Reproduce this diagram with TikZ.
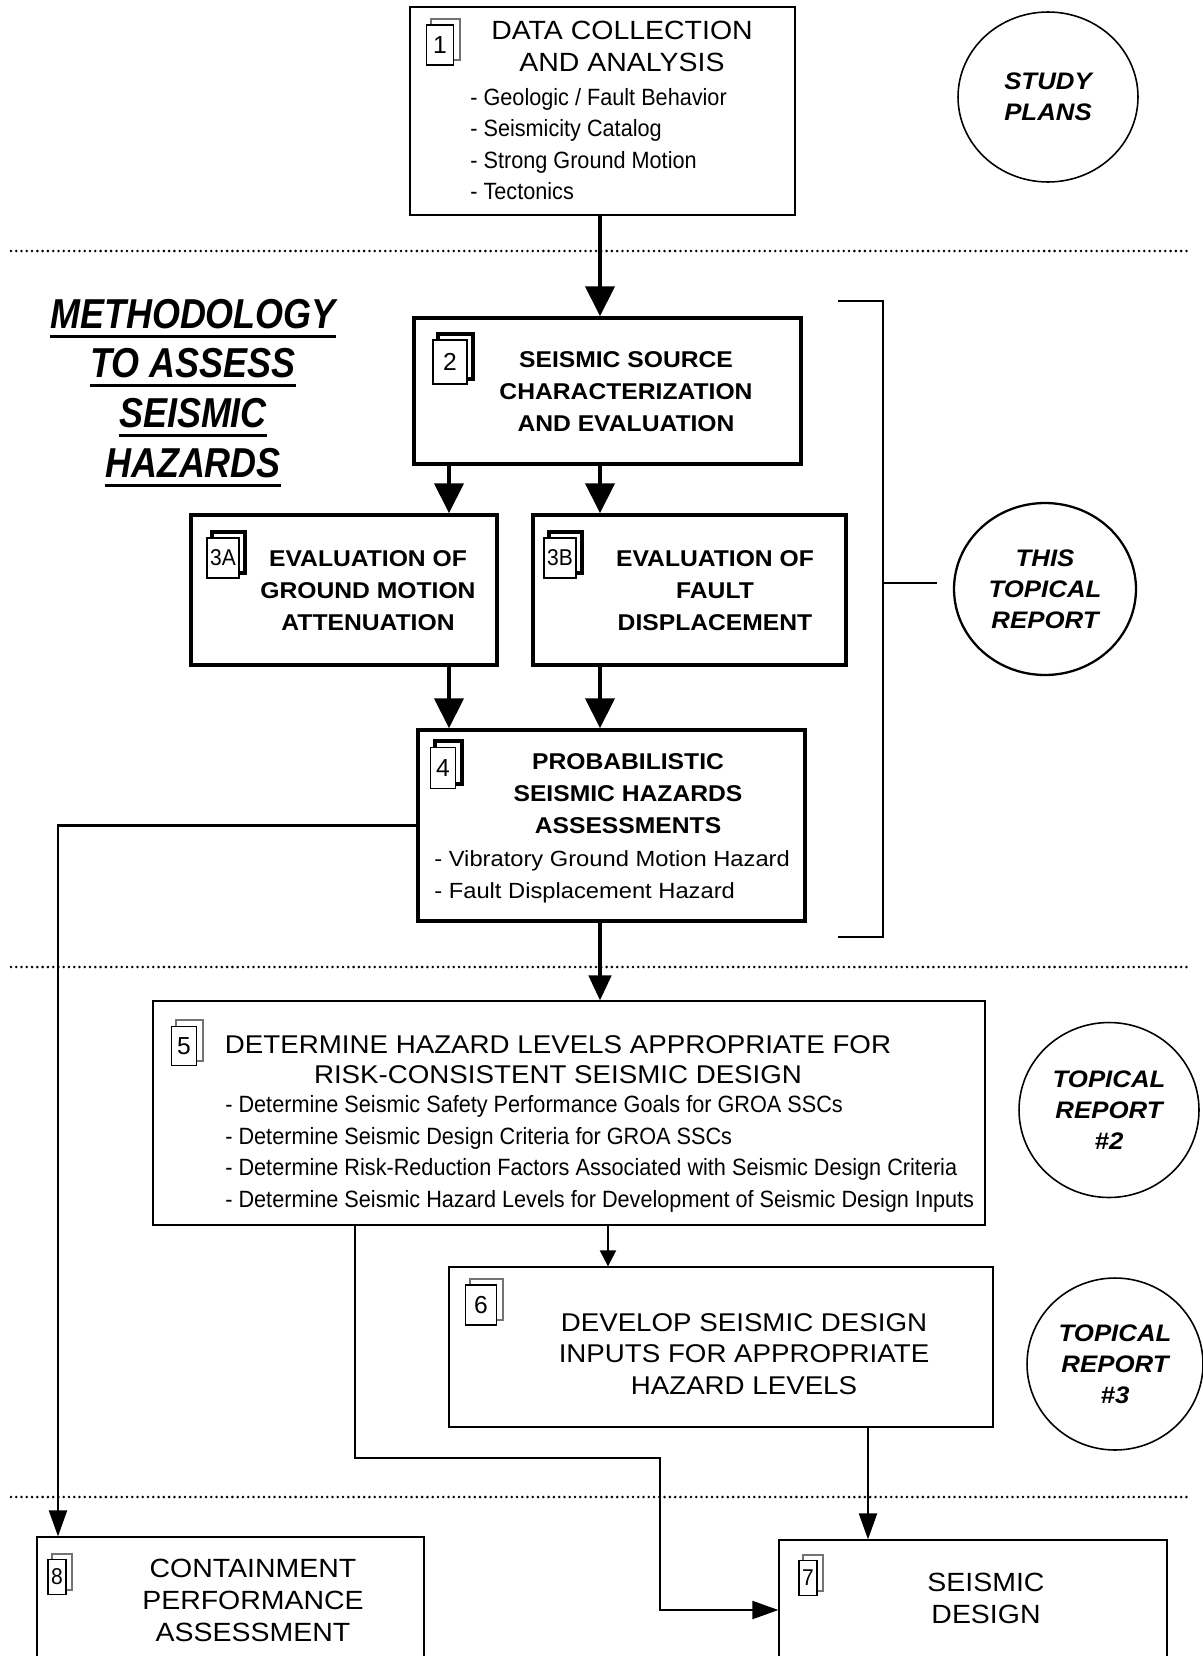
\documentclass[tikz,border=0pt]{standalone}
\usepackage{fontspec}
\setmainfont{Liberation Sans}
\newfontfamily\widesans[FakeStretch=1.08]{Liberation Sans}
\newfontfamily\narrowsans[FakeStretch=0.92]{Liberation Sans}
\newfontfamily\slimsans[FakeStretch=0.86]{Liberation Sans}
\usetikzlibrary{arrows.meta,fit,shapes.geometric}

\begin{document}
\begin{tikzpicture}[x=0.02cm, y=-0.02cm,
  thinbox/.style={draw, line width=0.7pt, inner sep=0pt},
  boldbox/.style={draw, line width=2pt, inner sep=0pt},
  numbox/.style={draw, fill=white, line width=0.9pt, inner sep=0pt, minimum width=0.6cm, minimum height=0.82cm, font=\fontsize{14}{14}\selectfont},
  iconback/.style={line width=1.2pt, black!55},
  boldback/.style={line width=2.2pt},
  plaintitle/.style={align=center, inner sep=0pt, font=\widesans\fontsize{15}{18.2}\selectfont},
  boldtitle/.style={align=center, inner sep=0pt, font=\widesans\bfseries\fontsize{13}{18.2}\selectfont},
  narrowlist/.style={align=left, inner sep=0pt, anchor=west, font=\narrowsans\fontsize{13.4}{17.9}\selectfont},
  plainlist/.style={align=left, inner sep=0pt, anchor=west, font=\widesans\fontsize{12.5}{18.2}\selectfont},
  oval/.style={ellipse, draw, line width=0.9pt, inner sep=0pt, align=center, font=\widesans\bfseries\itshape\fontsize{13.6}{17.7}\selectfont},
  headline/.style={inner sep=0pt, font=\slimsans\bfseries\itshape\fontsize{23.8}{28}\selectfont},
  dotline/.style={line width=1.6pt, dash pattern=on 0pt off 3pt, line cap=round},
  bigarrow/.style={line width=2.4pt, -{Triangle[length=0.6cm,width=0.58cm]}},
  thinarrow/.style={line width=1.2pt, -{Triangle[length=0.52cm,width=0.36cm]}},
  bracket/.style={line width=1.4pt}]
  \path[use as bounding box] (0,0) rectangle (1203,1656);
  \clip (0,0) rectangle (1203,1656);

  % section rules
  \draw[dotline] (11,251) -- (1188,251);
  \draw[dotline] (11,967) -- (1188,967);
  \draw[dotline] (11,1497) -- (1188,1497);

  % boxes
  \node[thinbox, line width=0.9pt, fit={(410,7) (795,215)}] (b1) {};
  \node[boldbox, fit={(414,318) (801,464)}] (b2) {};
  \node[boldbox, fit={(191,515) (497,665)}] (b3a) {};
  \node[boldbox, fit={(533,515) (846,665)}] (b3b) {};
  \node[boldbox, fit={(418,730) (805,921)}] (b4) {};
  \node[thinbox, fit={(153,1001) (985,1225)}] (b5) {};
  \node[thinbox, fit={(449,1267) (993,1427)}] (b6) {};
  \node[thinbox, fit={(779,1540) (1167,1680)}] (b7) {};
  \node[thinbox, fit={(37,1537) (424,1700)}] (b8) {};

  % page icons
  \node[numbox, minimum width=0.54cm, minimum height=0.8cm] (n1) at (440,45) {1};
  \draw[iconback] ([xshift=0.11cm]n1.north west) |- ([shift={(0.11cm,0.11cm)}]n1.north east) |- ([yshift=0.11cm]n1.south east);
  \node[numbox, minimum width=0.68cm, minimum height=0.88cm] (n2) at (450,362) {2};
  \draw[boldback] ([xshift=0.11cm]n2.north west) |- ([shift={(0.11cm,0.11cm)}]n2.north east) |- ([yshift=0.11cm]n2.south east);
  \node[numbox, minimum width=0.64cm, minimum height=0.8cm, font=\narrowsans\fontsize{13}{13}\selectfont] (n3a) at (223,558) {3A};
  \draw[boldback] ([xshift=0.11cm]n3a.north west) |- ([shift={(0.11cm,0.11cm)}]n3a.north east) |- ([yshift=0.11cm]n3a.south east);
  \node[numbox, minimum width=0.64cm, minimum height=0.8cm, font=\narrowsans\fontsize{13}{13}\selectfont] (n3b) at (560,558) {3B};
  \draw[boldback] ([xshift=0.11cm]n3b.north west) |- ([shift={(0.11cm,0.11cm)}]n3b.north east) |- ([yshift=0.11cm]n3b.south east);
  \node[numbox, minimum width=0.5cm, minimum height=0.82cm] (n4) at (443,768) {4};
  \draw[boldback] ([xshift=0.11cm]n4.north west) |- ([shift={(0.11cm,0.11cm)}]n4.north east) |- ([yshift=0.11cm]n4.south east);
  \node[numbox, minimum width=0.5cm, minimum height=0.78cm] (n5) at (184,1046) {5};
  \draw[iconback] ([xshift=0.11cm]n5.north west) |- ([shift={(0.11cm,0.11cm)}]n5.north east) |- ([yshift=0.11cm]n5.south east);
  \node[numbox, minimum width=0.62cm, minimum height=0.8cm] (n6) at (481,1305) {6};
  \draw[iconback] ([xshift=0.11cm]n6.north west) |- ([shift={(0.11cm,0.11cm)}]n6.north east) |- ([yshift=0.11cm]n6.south east);
  \node[numbox, minimum width=0.36cm, minimum height=0.7cm, font=\narrowsans\fontsize{13}{13}\selectfont] (n7) at (808,1578) {7};
  \draw[iconback] ([xshift=0.1cm]n7.north west) |- ([shift={(0.1cm,0.1cm)}]n7.north east) |- ([yshift=0.1cm]n7.south east);
  \node[numbox, minimum width=0.36cm, minimum height=0.7cm, font=\narrowsans\fontsize{13}{13}\selectfont] (n8) at (57,1577) {8};
  \draw[iconback] ([xshift=0.1cm]n8.north west) |- ([shift={(0.1cm,0.1cm)}]n8.north east) |- ([yshift=0.1cm]n8.south east);

  % box texts
  \node[plaintitle] (t1) at (622,46) {DATA COLLECTION\\AND ANALYSIS};
  \node[narrowlist] (l1) at (470,144) {- Geologic / Fault Behavior\\- Seismicity Catalog\\- Strong Ground Motion\\- Tectonics};
  \node[boldtitle] (t2) at (626,392) {SEISMIC SOURCE\\CHARACTERIZATION\\AND EVALUATION};
  \node[boldtitle] (t3a) at (368,591) {EVALUATION OF\\GROUND MOTION\\ATTENUATION};
  \node[boldtitle] (t3b) at (715,591) {EVALUATION OF\\FAULT\\DISPLACEMENT};
  \node[boldtitle] (t4) at (628,794) {PROBABILISTIC\\SEISMIC HAZARDS\\ASSESSMENTS};
  \node[plainlist] (l4) at (434,877) {- Vibratory Ground Motion Hazard\\- Fault Displacement Hazard};
  \node[plaintitle, font=\widesans\fontsize{14.6}{17.2}\selectfont] (t5) at (558,1060) {DETERMINE HAZARD LEVELS APPROPRIATE FOR\\RISK-CONSISTENT SEISMIC DESIGN};
  \node[narrowlist] (l5) at (225,1154) {- Determine Seismic Safety Performance Goals for GROA SSCs\\- Determine Seismic Design Criteria for GROA SSCs\\- Determine Risk-Reduction Factors Associated with Seismic Design Criteria\\- Determine Seismic Hazard Levels for Development of Seismic Design Inputs};
  \node[plaintitle, font=\widesans\fontsize{14.6}{17.9}\selectfont] (t6) at (744,1354) {DEVELOP SEISMIC DESIGN\\INPUTS FOR APPROPRIATE\\HAZARD LEVELS};
  \node[plaintitle] (t7) at (986,1598) {SEISMIC\\DESIGN};
  \node[plaintitle] (t8) at (253,1600) {CONTAINMENT\\PERFORMANCE\\ASSESSMENT};

  % heading
  \node[headline] (m1) at (193,314) {METHODOLOGY};
  \node[headline] (m2) at (193,363) {TO ASSESS};
  \node[headline] (m3) at (193,413) {SEISMIC};
  \node[headline] (m4) at (193,463) {HAZARDS};
  \draw[line width=1.7pt] ([yshift=-4pt]m1.south west) -- ([yshift=-4pt]m1.south east);
  \draw[line width=1.7pt] ([yshift=-4pt]m2.south west) -- ([yshift=-4pt]m2.south east);
  \draw[line width=1.7pt] ([yshift=-4pt]m3.south west) -- ([yshift=-4pt]m3.south east);
  \draw[line width=1.7pt] ([yshift=-4pt]m4.south west) -- ([yshift=-4pt]m4.south east);

  % report ovals
  \node[oval, minimum width=3.6cm, minimum height=3.4cm] (s1) at (1048,97) {STUDY\\PLANS};
  \node[oval, line width=1.3pt, minimum width=3.64cm, minimum height=3.44cm] (r1) at (1045,589) {THIS\\TOPICAL\\REPORT};
  \node[oval, minimum width=3.6cm, minimum height=3.5cm] (r2) at (1109,1110) {TOPICAL\\REPORT\\\#2};
  \node[oval, minimum width=3.52cm, minimum height=3.44cm] (r3) at (1115,1364) {TOPICAL\\REPORT\\\#3};

  % bracket
  \coordinate (brk) at (883,583);
  \draw[bracket] (838,301) -| (883,937) -- (838,937);
  \draw[bracket] (brk) -- ([xshift=-0.32cm]r1.west |- brk);

  % connectors
  \coordinate (colA) at (449,0);
  \coordinate (colB) at (600,0);
  \coordinate (drop56) at (608,0);
  \coordinate (drop5) at (355,0);
  \coordinate (drop6) at (868,0);
  \coordinate (lft) at (58,0);
  \coordinate (bend) at (660,1458);
  \draw[bigarrow] (b1.south -| colB) -- (b2.north -| colB);
  \draw[bigarrow] (b2.south -| colA) -- (b3a.north -| colA);
  \draw[bigarrow] (b2.south -| colB) -- (b3b.north -| colB);
  \draw[bigarrow] (b3a.south -| colA) -- (b4.north -| colA);
  \draw[bigarrow] (b3b.south -| colB) -- (b4.north -| colB);
  \draw[bigarrow, line width=1.8pt, -{Triangle[length=0.5cm,width=0.45cm]}] (b4.south -| colB) -- (b5.north -| colB);
  \draw[thinarrow, -{Triangle[length=0.32cm,width=0.32cm]}] (b5.south -| drop56) -- (b6.north -| drop56);
  \draw[thinarrow] (b5.south -| drop5) |- (bend) |- (b7.west);
  \draw[thinarrow] (b6.south -| drop6) -- (b7.north -| drop6);
  \draw[thinarrow] (b4.west) -| (b8.north -| lft);
\end{tikzpicture}
\end{document}
